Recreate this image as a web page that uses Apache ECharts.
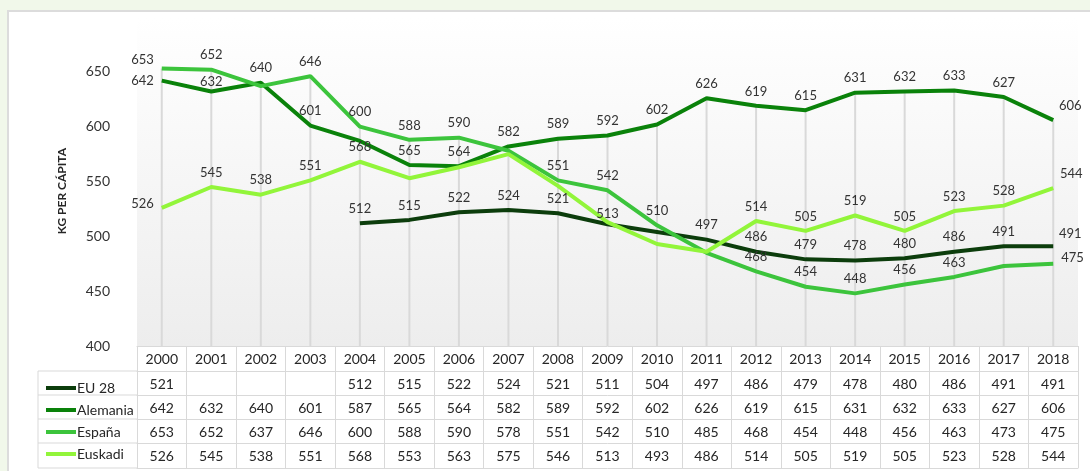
<!DOCTYPE html>
<html>
<head>
<meta charset="utf-8">
<script src="https://cdn.jsdelivr.net/npm/echarts@6/dist/echarts.min.js"></script>
<style>
  html, body { margin: 0; padding: 0; background: #f1f8ea; }
  #panel { position: absolute; left: 7px; top: 10px; width: 1083px; height: 461px; background: #fff;
           border-left: 2px solid #dcdcdc; border-top: 2px solid #dcdcdc; box-sizing: border-box; }
  #chart { position: absolute; left: 0; top: 0; width: 1090px; height: 471px; }
</style>
</head>
<body>
<div id="panel"></div>
<div id="chart"></div>
<script>
const years = ['2000', '2001', '2002', '2003', '2004', '2005', '2006', '2007', '2008', '2009',
  '2010', '2011', '2012', '2013', '2014', '2015', '2016', '2017', '2018'];
const eu28 = [521, null, null, null, 512, 515, 522, 524, 521, 511, 504, 497, 486, 479, 478, 480, 486, 491, 491];
const alemania = [642, 632, 640, 601, 587, 565, 564, 582, 589, 592, 602, 626, 619, 615, 631, 632, 633, 627, 606];
const espana = [653, 652, 637, 646, 600, 588, 590, 578, 551, 542, 510, 485, 468, 454, 448, 456, 463, 473, 475];
const euskadi = [526, 545, 538, 551, 568, 553, 563, 575, 546, 513, 493, 486, 514, 505, 519, 505, 523, 528, 544];
const yTicks = [400, 450, 500, 550, 600, 650];

const FONT = 'Lato';
const gridLine = '#d9d9d9';

// label tweaks: which labels were removed in the original, and which sit elsewhere
const rows = [
  { name: 'EU 28', data: eu28, color: '#0c3d0c', hide: [0, 9, 10],
    pos: { 18: { offset: [17, 2] } } },
  { name: 'Alemania', data: alemania, color: '#0a820a', hide: [4],
    pos: { 0: { position: 'left', offset: [0, 0] }, 1: { offset: [0, 5] }, 18: { offset: [17, 0] } } },
  { name: 'España', data: espana, color: '#3cc43c', hide: [2, 7, 11, 17],
    pos: { 0: { position: 'left', offset: [0, -9] }, 18: { position: 'right', offset: [0, -6] } } },
  { name: 'Euskadi', data: euskadi, color: '#92f53a', hide: [5, 6, 7, 8, 10, 11],
    pos: { 0: { position: 'left', offset: [0, -4] }, 9: { offset: [0, 6] }, 18: { offset: [18, 0] } } }
];

const rowTop = [0, 25, 49, 73, 97, 122];   // table rows under the plot
const plotBottom = 346;

const chart = echarts.init(document.getElementById('chart'));

function labelled(r) {
  return r.data.map((v, i) => {
    if (v == null) return null;
    if (r.hide.includes(i)) return { value: v, label: { show: false } };
    if (r.pos[i]) return { value: v, label: r.pos[i] };
    return v;
  });
}

// drop lines go from the highest series down to the axis
const dropTop = years.map((_, i) => Math.max(...rows.map(r => r.data[i] == null ? -Infinity : r.data[i])));

const tableAxis = (k, formatter) => ({
  type: 'category',
  data: years,
  position: 'bottom',
  offset: rowTop[k],
  boundaryGap: true,
  axisLine: { show: true, onZero: false, lineStyle: { color: gridLine, width: 1 } },
  axisTick: { show: true, interval: 0, length: rowTop[k + 1] - rowTop[k], lineStyle: { color: gridLine } },
  axisLabel: { interval: 0, margin: 6, fontFamily: FONT, fontSize: 14, color: '#262626', formatter },
  splitLine: { show: false }
});

const xAxes = [tableAxis(0, v => v)];
rows.forEach((r, k) => {
  xAxes.push(tableAxis(k + 1, (v, i) => (r.data[i] == null ? '' : String(r.data[i]))));
});
xAxes.push({
  type: 'category', data: years, position: 'bottom', offset: rowTop[5],
  axisLine: { show: true, onZero: false, lineStyle: { color: gridLine } },
  axisTick: { show: false }, axisLabel: { show: false }, splitLine: { show: false }
});

const graphics = [
  {
    type: 'text', left: 56, top: 148, rotation: Math.PI / 2,
    style: { text: 'KG PER CÁPITA', font: 'bold 12px ' + FONT, fill: '#262626' }
  },
  { type: 'line', shape: { x1: 38, y1: plotBottom + rowTop[1], x2: 38, y2: plotBottom + rowTop[5] },
    style: { stroke: gridLine, lineWidth: 1 } }
];
for (let k = 1; k <= 5; k++) {
  graphics.push({ type: 'line', shape: { x1: 38, y1: plotBottom + rowTop[k], x2: 137, y2: plotBottom + rowTop[k] },
    style: { stroke: gridLine, lineWidth: 1 } });
}

const option = {
  animation: false,
  textStyle: { fontFamily: FONT },
  grid: {
    left: 137, right: 12, top: 17, bottom: 471 - plotBottom,
    show: true, borderWidth: 0,
    backgroundColor: new echarts.graphic.LinearGradient(0, 0, 0, 1, [
      { offset: 0, color: '#ffffff' }, { offset: 1, color: '#ededed' }
    ])
  },
  legend: {
    data: rows.map(r => r.name),
    orient: 'vertical', left: 41, top: 376, height: 95,
    icon: 'rect', itemWidth: 30, itemHeight: 4, itemGap: 8,
    selectedMode: false,
    textStyle: { fontFamily: FONT, fontSize: 14, color: '#262626', padding: [0, 0, 0, -4] }
  },
  xAxis: xAxes,
  yAxis: {
    type: 'value',
    min: yTicks[0], max: 700, interval: 50,
    axisLine: { show: false }, axisTick: { show: false },
    splitLine: { show: false },
    axisLabel: {
      margin: 27, fontFamily: FONT, fontSize: 14, color: '#333',
      formatter: v => (yTicks.includes(v) ? String(v) : '')
    }
  },
  graphic: graphics,
  series: [
    {
      name: 'drop', type: 'bar', data: dropTop, barWidth: 2, silent: true, z: 1,
      itemStyle: { color: gridLine }, label: { show: false }
    },
    ...rows.map(r => ({
      name: r.name, type: 'line', data: labelled(r),
      color: r.color,
      lineStyle: { width: 4, color: r.color },
      showSymbol: true, symbol: 'circle', symbolSize: 0,
      itemStyle: { color: r.color },
      z: 3,
      label: { show: true, position: 'top', distance: 8, fontFamily: FONT, fontSize: 13, color: '#333' },
      emphasis: { disabled: true }
    }))
  ]
};

chart.setOption(option);
</script>
</body>
</html>
